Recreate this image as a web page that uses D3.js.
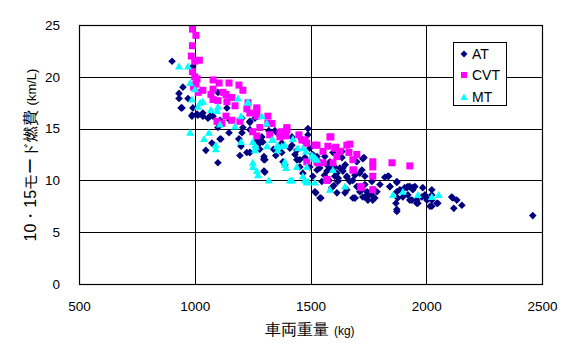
<!DOCTYPE html>
<html><head><meta charset="utf-8">
<script src="https://cdn.jsdelivr.net/npm/d3@7"></script>
<style>body{margin:0;background:#fff}svg{display:block}text{font-family:"Liberation Sans",Arial,sans-serif}</style>
</head><body><svg id="c" width="575" height="359"></svg>
<script>
const xTicks=[500,1000,1500,2000,2500];
const yTicks=[0,5,10,15,20,25];
const seriesNames=["AT","CVT","MT"];
const atData=[[902,21.5],[992,21.0],[949,19.0],[932,18.4],[932,17.9],[971,17.9],[945,17.0],[992,17.0],[988,16.2],[1010,16.4],[1035,16.2],[1057,16.0],[1079,16.2],[1100,18.5],[1139,17.0],[1109,15.8],[1152,15.8],[1204,16.0],[1238,15.7],[1208,15.1],[1238,14.9],[1148,14.6],[1109,14.0],[1074,13.6],[1048,12.9],[1100,11.7],[1191,14.0],[1200,13.3],[1238,12.7],[1294,13.7],[1299,12.3],[1299,12.0],[1281,13.6],[1320,14.8],[1346,14.8],[1489,15.0],[1636,12.8],[1445,12.0],[1476,12.2],[1528,12.3],[1575,11.4],[1605,11.3],[1260,13.6],[1273,13.9],[1299,12.1],[1299,10.9],[1281,13.0],[1376,13.6],[1381,11.8],[1389,11.5],[1411,13.1],[1441,12.9],[1441,12.0],[1454,11.3],[1489,14.4],[1467,10.7],[1497,11.3],[1510,10.4],[1528,11.0],[1519,8.9],[1541,8.3],[1549,9.9],[1571,10.9],[1584,11.3],[1592,9.3],[1605,10.4],[1618,9.9],[1636,12.2],[1640,11.2],[1657,10.3],[1657,9.1],[1683,10.0],[1692,8.3],[1713,10.7],[1722,9.1],[1726,12.1],[1735,10.4],[1735,9.6],[1744,8.4],[1748,8.8],[1765,9.9],[1787,8.9],[1800,9.6],[1821,10.3],[1834,10.4],[1843,9.4],[1873,9.9],[1873,8.9],[1877,8.3],[1873,7.2],[1899,8.4],[1916,9.3],[1929,9.4],[1942,9.1],[1959,8.1],[1985,9.3],[1994,8.6],[2003,8.1],[2024,9.1],[2024,8.6],[2024,8.1],[2024,7.5],[2046,7.8],[1303,10.8],[1523,8.8],[1545,8.3],[1601,9.5],[1614,8.8],[1649,8.8],[1683,8.3],[1735,8.4],[1769,8.1],[1838,10.4],[1873,9.8],[1869,7.8],[1873,7.0],[1921,9.4],[1951,9.4],[1938,8.1],[1959,7.8],[2016,7.5],[2050,7.8],[2115,8.3],[2132,8.1],[2154,7.6],[2119,7.3],[2460,6.6],[1981,8.4],[2003,8.3],[2110,8.4],[1964,7.8],[1584,11.7],[1597,11.3],[1614,10.7],[1627,11.2],[1640,10.9],[1657,10.4],[1670,9.9],[1692,10.5],[1700,9.4],[1713,8.9],[1726,8.4],[1744,8.9],[1748,8.1],[1765,8.6],[1769,9.1],[1778,8.3],[1843,9.4],[1886,9.1],[1907,9.3],[1921,8.6],[1942,9.3],[1929,8.1],[1692,8.3],[941,17.0],[988,16.3],[1014,16.3],[1035,16.5],[1066,16.2],[1100,15.1],[1113,14.0],[1191,14.0],[1204,14.6],[1195,12.4],[1225,12.7],[1238,15.6],[1260,16.0],[1273,13.7],[1238,12.7],[1303,12.0],[1355,14.6],[1389,14.6],[1420,13.4],[1433,12.5],[1454,12.0],[1497,13.1],[1510,12.5],[1528,11.7],[1562,12.3],[1584,11.8],[1597,12.7],[1290,14.2],[1376,12.7],[1731,12.2],[1722,11.0],[1560,10.5],[1580,10.0],[1620,10.2],[1650,11.5],[1700,11.8],[1540,11.2],[1480,13.6],[1460,14.0],[1420,14.2],[1340,13.0],[1350,12.4]];
const cvtData=[[990,24.6],[1005,24.0],[990,23.0],[985,22.0],[1000,21.5],[1020,21.6],[990,20.5],[1000,20.0],[1010,19.8],[1005,19.3],[995,19.0],[1015,18.5],[1079,19.7],[1105,19.4],[1148,19.4],[1191,19.2],[1208,18.7],[1035,18.7],[1079,18.8],[1122,18.5],[1070,18.3],[1135,18.3],[1160,18.0],[1079,17.8],[1100,17.7],[1139,17.6],[1230,17.5],[1174,17.2],[1225,16.9],[1268,17.0],[1238,16.5],[1268,16.2],[1316,16.2],[1135,16.2],[1160,15.8],[1195,15.7],[1316,15.5],[1281,15.1],[1250,14.7],[1268,14.3],[1324,14.4],[1376,14.7],[1398,14.9],[1368,14.2],[1394,14.3],[1450,14.4],[1463,13.9],[1484,13.6],[1519,13.4],[1554,12.8],[1588,14.2],[1575,13.3],[1605,13.1],[1627,12.8],[1614,12.3],[1657,13.4],[1666,12.7],[1528,11.8],[1554,11.7],[1096,15.7],[1117,15.5],[1268,16.8],[1333,15.5],[1398,15.1],[1368,14.6],[1476,13.9],[1528,13.4],[1584,14.2],[1610,13.2],[1670,13.5],[1700,12.5],[1683,12.0],[1769,11.8],[1769,11.3],[1769,10.4],[1852,11.7],[1929,11.4],[1571,10.0],[1687,11.0],[1718,9.3],[1769,9.1],[1532,11.7],[1484,11.8],[1597,11.7],[1683,11.0],[1571,10.1],[1718,9.4]];
const mtData=[[932,21.0],[971,21.0],[980,19.4],[1001,18.8],[988,17.8],[1014,17.1],[980,14.6],[1023,17.5],[1035,17.6],[1070,16.8],[1100,17.1],[1096,16.7],[1187,17.9],[1230,17.5],[1200,16.2],[1290,16.2],[1109,15.4],[1174,15.2],[1061,14.6],[1040,14.0],[1091,13.4],[1091,13.0],[1200,13.7],[1251,13.7],[1264,13.2],[1312,13.3],[1333,13.9],[1355,13.3],[1376,13.3],[1359,12.9],[1424,14.0],[1445,13.1],[1467,13.1],[1480,12.8],[1510,12.3],[1528,12.0],[1251,11.3],[1389,11.8],[1441,11.3],[1484,11.3],[1268,10.9],[1273,10.5],[1320,10.0],[1389,11.5],[1394,11.2],[1420,10.0],[1467,10.4],[1476,10.0],[1484,9.8],[1519,9.8],[1506,12.4],[1519,12.1],[1584,9.1],[1251,11.7],[1411,10.0],[1489,9.9],[1519,12.2],[1597,11.0],[1649,9.4],[1856,8.6],[1899,8.9],[1964,8.6],[2024,8.4],[2054,8.6],[1230,17.6],[1311,15.5],[1338,13.9],[1359,13.3],[1389,13.4],[1260,13.4],[1260,12.9]];

const svg=d3.select("#c");
const L=79,R=542,T=25,B=284;
const x=d3.scaleLinear().domain([500,2500]).range([L,R]);
const y=d3.scaleLinear().domain([0,25]).range([B,T]);

svg.append("g").selectAll("line").data(yTicks.slice(1,-1)).join("line")
  .attr("x1",L).attr("x2",R).attr("y1",d=>Math.round(y(d))+0.5).attr("y2",d=>Math.round(y(d))+0.5)
  .attr("stroke","#000").attr("stroke-width",1);
svg.append("g").selectAll("line").data(xTicks.slice(1,-1)).join("line")
  .attr("y1",T).attr("y2",B).attr("x1",d=>Math.round(x(d))+0.5).attr("x2",d=>Math.round(x(d))+0.5)
  .attr("stroke","#000").attr("stroke-width",1);

const xa=svg.append("g").attr("transform",`translate(0,${B})`).call(d3.axisBottom(x).tickValues(xTicks).tickSize(0).tickPadding(17).tickFormat(d3.format("d")));
const ya=svg.append("g").attr("transform",`translate(${L},0)`).call(d3.axisLeft(y).tickValues(yTicks).tickSize(0).tickPadding(19).tickFormat(d3.format("d")));
[xa,ya].forEach(a=>{a.select(".domain").remove();a.selectAll("text").attr("font-size",13.5).attr("font-family","Liberation Sans, Arial, sans-serif").attr("fill","#000");});

const g=svg.append("g");
const diamond=s=>`M0,${-s}L${s},0L0,${s}L${-s},0Z`;
g.append("g").selectAll("path").data(atData).join("path")
  .attr("d",diamond(3.8)).attr("transform",d=>`translate(${x(d[0])},${y(d[1])})`).attr("fill","#000080");
g.append("g").selectAll("rect").data(cvtData).join("rect")
  .attr("x",d=>x(d[0])-3.5).attr("y",d=>y(d[1])-3.5).attr("width",7).attr("height",7).attr("fill","#ff00ff");
const tri=`M0,-4L4,3L-4,3Z`;
g.append("g").selectAll("path").data(mtData).join("path")
  .attr("d",tri).attr("transform",d=>`translate(${x(d[0])},${y(d[1])})`).attr("fill","#00ffff");

svg.append("rect").attr("x",L+0.5).attr("y",T+0.5).attr("width",R-L).attr("height",B-T).attr("fill","none").attr("stroke","#000").attr("stroke-width",1.2);

const lg=svg.append("g");
lg.append("rect").attr("x",453.5).attr("y",42.5).attr("width",53).attr("height",63).attr("fill","#fff").attr("stroke","#000");
const ly=[54,75,97];
lg.append("path").attr("d",diamond(3.5)).attr("transform",`translate(464,${ly[0]})`).attr("fill","#000080");
lg.append("rect").attr("x",461).attr("y",ly[1]-3).attr("width",6).attr("height",6).attr("fill","#ff00ff");
lg.append("path").attr("d","M0,-3.5L3.5,3L-3.5,3Z").attr("transform",`translate(464,${ly[2]})`).attr("fill","#00ffff");
lg.selectAll("text.l").data(seriesNames).join("text").attr("class","l")
  .attr("x",472).attr("y",(d,i)=>ly[i]+5).attr("font-size",14).text(d=>d);

const xt=svg.append("text").attr("x",310).attr("y",335).attr("text-anchor","middle").attr("font-size",16).attr("font-weight",300).attr("font-family","Noto Sans CJK JP, sans-serif");
xt.append("tspan").text("車両重量 ");
xt.append("tspan").attr("font-size",12).text("(kg)");
const yt=svg.append("text").attr("transform","translate(36,155) rotate(-90)").attr("text-anchor","middle").attr("font-size",16).attr("font-weight",300).attr("font-family","Noto Sans CJK JP, sans-serif");
yt.append("tspan").text("10・15モード燃費 ");
yt.append("tspan").attr("font-size",13).text("(km/L)");
</script></body></html>
